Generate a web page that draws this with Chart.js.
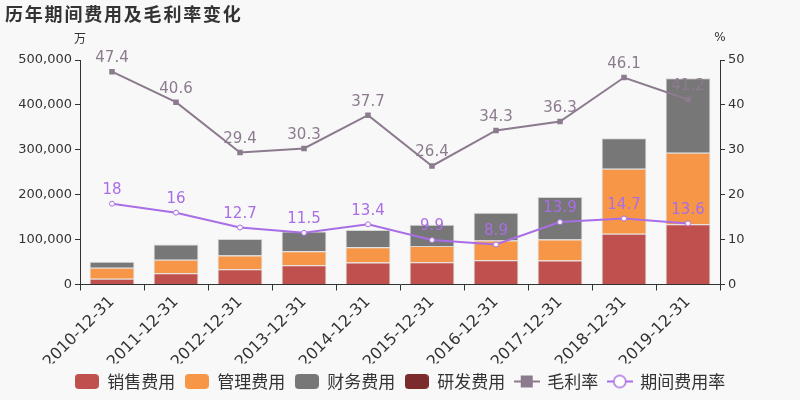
<!DOCTYPE html>
<html>
<head>
<meta charset="utf-8">
<script src="https://cdn.jsdelivr.net/npm/chart.js@4/dist/chart.umd.min.js"></script>
<style>
  html, body { margin: 0; padding: 0; background: #f8f8f8; }
  #wrap { width: 800px; height: 400px; position: relative; }
</style>
</head>
<body>
<div id="wrap"><canvas id="chart"></canvas></div>
<script>
// data
const years = ['2010-12-31', '2011-12-31', '2012-12-31', '2013-12-31', '2014-12-31',
               '2015-12-31', '2016-12-31', '2017-12-31', '2018-12-31', '2019-12-31'];
const salesCost = [12700, 25100, 34000, 42900, 48900, 49600, 54000, 53300, 113300, 134000];
const adminCost = [24400, 29800, 30400, 31100, 34000, 36400, 43800, 46700, 144500, 159300];
const financeCost = [13300, 34000, 37100, 43800, 38600, 47300, 62200, 94900, 68200, 166000];
const rdCost = [0, 0, 0, 0, 0, 0, 0, 0, 0, 0];
const grossMargin = [47.4, 40.6, 29.4, 30.3, 37.7, 26.4, 34.3, 36.3, 46.1, 41.2];
const periodRate = [18, 16, 12.7, 11.5, 13.4, 9.9, 8.9, 13.9, 14.7, 13.6];

const FONT = 'DejaVu Sans, "Noto Sans CJK SC", sans-serif';
const CJK = '"Noto Sans CJK SC", sans-serif';
const marginColor = '#8c7b8e';
const rateColor = '#a96ee6';

// legend markers as small canvases
function boxMarker(color) {
    const c = document.createElement('canvas');
    c.width = 24; c.height = 15;
    const g = c.getContext('2d');
    g.fillStyle = color;
    g.beginPath();
    g.roundRect(0, 0, 24, 15, 4);
    g.fill();
    return c;
}

function lineMarker(color, type) {
    const c = document.createElement('canvas');
    c.width = 26; c.height = 16;
    const g = c.getContext('2d');
    g.strokeStyle = color;
    g.lineWidth = 2;
    g.beginPath(); g.moveTo(0, 8); g.lineTo(26, 8); g.stroke();
    if (type === 'rect') {
        g.fillStyle = color;
        g.fillRect(7, 2, 12, 12);
    } else {
        g.fillStyle = '#ffffff';
        g.lineWidth = 1.5;
        g.beginPath(); g.arc(13, 8, 6, 0, Math.PI * 2); g.fill(); g.stroke();
    }
    return c;
}

const decorPlugin = {
    id: 'decor',
    afterDatasetsDraw(chart) {
        const ctx = chart.ctx;
        ctx.save();
        // value labels above the line points
        [4, 5].forEach(i => {
            const meta = chart.getDatasetMeta(i);
            const ds = chart.data.datasets[i];
            ctx.fillStyle = ds.borderColor;
            ctx.font = '15px ' + FONT;
            ctx.textAlign = 'center';
            ctx.textBaseline = 'bottom';
            meta.data.forEach((pt, j) => {
                ctx.fillText(String(ds.data[j]), pt.x, pt.y - 6);
            });
        });
        ctx.restore();
    },
    afterDraw(chart) {
        const ctx = chart.ctx;
        const area = chart.chartArea;
        ctx.save();
        ctx.fillStyle = '#333';
        ctx.font = 'bold 18px ' + CJK;
        ctx.letterSpacing = '1.8px';
        ctx.textAlign = 'left';
        ctx.textBaseline = 'middle';
        ctx.fillText('历年期间费用及毛利率变化', 5, 14);
        ctx.letterSpacing = '0px';
        ctx.font = '12px ' + CJK;
        ctx.textAlign = 'center';
        ctx.fillText('万', area.left, 38);
        ctx.font = '12px ' + FONT;
        ctx.fillText('%', area.right, 38);
        ctx.restore();
    }
};

const barBorder = 'rgba(210,210,210,0.9)';
const legendMarks = [boxMarker('#c0504d'), boxMarker('#f79646'), boxMarker('#777777'), boxMarker('#7b2b2b'),
                     lineMarker(marginColor, 'rect'), lineMarker(rateColor, 'circle')];

new Chart(document.getElementById('chart'), {
    type: 'bar',
    data: {
        labels: years,
        datasets: [
            { label: '销售费用', data: salesCost, backgroundColor: '#c0504d', borderColor: barBorder, borderWidth: 1, stack: 's', yAxisID: 'y', order: 2 },
            { label: '管理费用', data: adminCost, backgroundColor: '#f79646', borderColor: barBorder, borderWidth: 1, stack: 's', yAxisID: 'y', order: 2 },
            { label: '财务费用', data: financeCost, backgroundColor: '#777777', borderColor: barBorder, borderWidth: 1, stack: 's', yAxisID: 'y', order: 2 },
            { label: '研发费用', data: rdCost, backgroundColor: '#7b2b2b', borderColor: barBorder, borderWidth: 0, stack: 's', yAxisID: 'y', order: 2 },
            { type: 'line', label: '毛利率', data: grossMargin, borderColor: marginColor, backgroundColor: marginColor,
              borderWidth: 2, pointStyle: 'rect', pointRadius: 2.5, yAxisID: 'y1', order: 1 },
            { type: 'line', label: '期间费用率', data: periodRate, borderColor: rateColor, backgroundColor: '#ffffff',
              borderWidth: 2, pointStyle: 'circle', pointRadius: 2.5, pointBorderWidth: 1, yAxisID: 'y1', order: 1 }
        ]
    },
    options: {
        responsive: true,
        maintainAspectRatio: false,
        animation: false,
        datasets: { bar: { barPercentage: 0.7, categoryPercentage: 1 } },
        layout: { padding: { top: 60, left: 0, right: 0, bottom: 0 } },
        plugins: {
            tooltip: { enabled: false },
            legend: {
                position: 'bottom',
                labels: {
                    color: '#333',
                    font: { size: 17, family: CJK },
                    padding: 9.5,
                    boxHeight: 15,
                    usePointStyle: true,
                    pointStyleWidth: 24,
                    generateLabels(chart) {
                        return chart.data.datasets.map((ds, i) => ({
                            text: ds.label,
                            fillStyle: ds.backgroundColor,
                            strokeStyle: ds.backgroundColor,
                            lineWidth: 0,
                            pointStyle: legendMarks[i],
                            fontColor: '#333',
                            datasetIndex: i,
                            hidden: false
                        }));
                    }
                }
            }
        },
        scales: {
            x: {
                stacked: true,
                grid: { display: true, drawOnChartArea: false, color: '#333', tickLength: 6, offset: true },
                border: { color: '#333' },
                ticks: { color: '#333', font: { size: 16, family: FONT }, maxRotation: 45, minRotation: 45, padding: 2 },
                afterFit(scale) { scale.height = 79; }
            },
            y: {
                stacked: true,
                position: 'left',
                min: 0, max: 500000,
                grid: { display: true, drawOnChartArea: false, color: '#333', tickLength: 5 },
                border: { color: '#333' },
                ticks: { stepSize: 100000, color: '#333', font: { size: 13, family: FONT },
                         callback: v => v.toLocaleString('en-US') },
                afterFit(scale) { scale.width = 80; }
            },
            y1: {
                position: 'right',
                min: 0, max: 50,
                grid: { display: true, drawOnChartArea: false, color: '#333', tickLength: 5 },
                border: { color: '#333' },
                ticks: { stepSize: 10, color: '#333', font: { size: 13, family: FONT } },
                afterFit(scale) { scale.width = 80; }
            }
        }
    },
    plugins: [decorPlugin]
});
</script>
</body>
</html>
